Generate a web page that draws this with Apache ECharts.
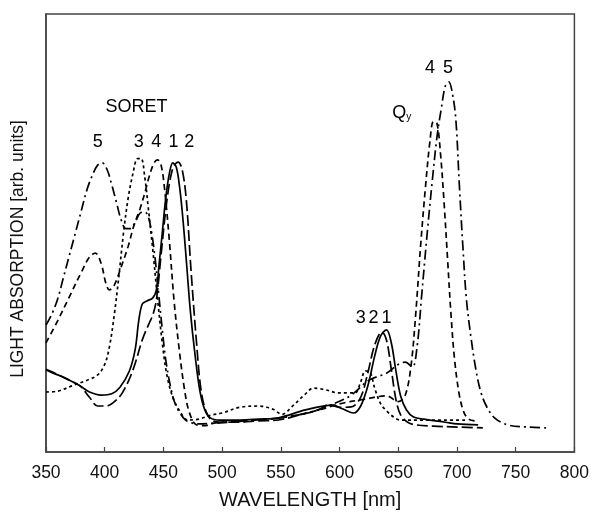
<!DOCTYPE html>
<html><head><meta charset="utf-8">
<script src="https://cdn.jsdelivr.net/npm/echarts@6/dist/echarts.min.js"></script>
<style>html,body{margin:0;padding:0;background:#fff}#c{width:592px;height:515px}</style></head>
<body><div id="c"></div>
<script>
// Wavelength [nm], absorption [arb. units, 0-100]
var curve1 = [[350,18.7],[356,18.0],[362,17.4],[370,16.4],[379,15.1],[387,13.7],[397,13.0],[406,13.3],[413,14.8],[421,18.5],[426,23.5],[429,30],[432,33.8],[436,34.5],[441,35.2],[444,37],[446,42],[449,50],[452,58],[455,63.5],[458,66],[461,65],[464,60],[467,52],[470,42],[473,32],[477,22],[481,14],[485,9.8],[490,7.8],[498,7.3],[515,7.3],[531,7.5],[548,7.8],[571,9.6],[594,10.7],[603,9.8],[612,8.9],[618,10.5],[624,15],[630,22],[635,26.5],[640,27.9],[644,25],[648,18.5],[652,12.8],[657,9.6],[663,8.0],[672,7.5],[690,6.8],[700,6.4],[718,6.2]];
var curve2 = [[350,18.9],[356,18.2],[362,17.4],[370,16.4],[379,15.1],[387,12.5],[394,10.5],[401,10.5],[407,11.2],[415,13.5],[424,18.7],[432,25.6],[438,29.5],[441,31.3],[444,34.7],[448,45],[453,57.5],[458,64.8],[462.5,66.2],[466,64.4],[469.5,57.5],[473.5,41.5],[478,25.6],[482,14.2],[486.5,9.1],[491,7.3],[498,6.8],[514,6.8],[531,7.1],[548,7.3],[565,8.4],[582,9.6],[591,10.8],[600,10.2],[610,10.3],[618,12.5],[624,18],[630,24.5],[636,27.4],[640,25.5],[644,19],[648,12],[652,8.5],[658,6.8],[665,6.2],[680,5.9],[700,5.7],[722,5.5]];
var curve3 = [[350,13.7],[360,13.9],[372,15.1],[385,16.4],[394,17.6],[400,20],[404,24],[408,31],[412,40],[416,50],[420,58],[424,63.5],[428,67],[431,67],[434,63],[437,56],[441,46],[445,35],[449,25],[453,17.5],[458,12.5],[464,9.3],[471,7.3],[480,7.5],[490,8.4],[500,8.9],[515,10.2],[531,10.5],[543,9.8],[551,8.6],[560,10.5],[570,13],[578,14.6],[588,14.2],[599,13.5],[613,13.5],[618,16],[622,18.5],[626,18.2],[630,14.5],[635,11],[640,9.4],[646,8],[652,7.3],[670,7.3],[690,7.3],[709,7.3]];
var curve4 = [[350,24.9],[360,30],[370,35.5],[380,41],[387,44.5],[392,45.4],[397,43],[401,38.5],[404,37],[408,38],[415,43],[420,47],[425,51.8],[430,55.5],[434,59],[438,63],[442,66],[445,66.7],[448,65.5],[451,60],[455,48.4],[459,34.7],[463.5,23.3],[468,14.2],[472,9.1],[478,6.2],[485,6.0],[493,6.6],[515,7.1],[540,7.5],[565,8.5],[585,9.8],[600,11.0],[620,12],[640,12.8],[650,11.5],[656,13],[661,20],[665,32],[669,47],[673,60],[677,71],[680,75.5],[683,75],[686,68],[689,57],[692,44],[695,31],[698,21],[702,13],[706,9],[710,7.5],[715,7.1]];
var curve5 = [[350,29],[355,31.5],[360,35],[365,40],[370,45],[375,50],[380,55],[385,60],[390,63.5],[394,65.5],[398,66],[402,64.5],[406,61],[410,57],[414,53],[418,51],[422,51],[426,52.5],[430,54.5],[434,54.8],[437,53.8],[440,50],[443,44],[446,36],[449,28],[452,21],[456,15],[460,11],[465,8.5],[470,7.1],[480,6.4],[495,6.6],[520,7.1],[550,7.8],[575,9.1],[595,11],[610,13],[625,16.4],[640,18],[650,20],[656,20.5],[662,19.4],[666,24],[670,36],[675,51],[679,62],[683,72],[687,79],[690,83.5],[693,84.5],[696,82],[699,76],[702,61],[705,47],[708,35],[712,26],[716,19],[720,14],[725,10.5],[732,7.8],[743,6.2],[760,5.7],[778,5.5]];
// Annotation labels: [wavelength, absorption, text]
var annotations = [[427,78.8,'SORET'],[394,70.8,'5'],[429,70.8,'3'],[444,70.8,'4'],[458.5,70.8,'1'],[472,70.8,'2'],[618,30.6,'3'],[629,30.6,'2'],[640,30.6,'1'],[677,87.7,'4'],[692.4,87.7,'5'],[653,77.4,'Qy']];
var xTicks = {min:350, max:800, step:50};

var FONT = '"Liberation Sans", Arial, sans-serif';
var chart = echarts.init(document.getElementById('c'), null, {renderer:'canvas'});
function line(data, type){
  return {type:'line', data:data, smooth:0.35, showSymbol:false, silent:true,
    lineStyle:{color:'#000', width:1.7, type:type}};
}
chart.setOption({
  animation:false,
  backgroundColor:'#fff',
  grid:{left:46, top:14, right:15, bottom:63, show:true, borderColor:'#444', borderWidth:1.5},
  xAxis:{type:'value', min:xTicks.min, max:xTicks.max, interval:xTicks.step,
    name:'WAVELENGTH [nm]', nameLocation:'middle', nameGap:38,
    nameTextStyle:{fontFamily:FONT, fontSize:20, color:'#111'},
    axisLine:{lineStyle:{color:'#444', width:1.5}},
    axisTick:{inside:true, length:5, lineStyle:{color:'#444', width:1.2}},
    axisLabel:{fontFamily:FONT, fontSize:17.5, color:'#111', margin:12},
    splitLine:{show:false}},
  yAxis:{type:'value', min:0, max:100,
    name:'LIGHT ABSORPTION [arb. units]', nameLocation:'middle', nameGap:19,
    nameTextStyle:{fontFamily:FONT, fontSize:17.5, color:'#111', padding:[0,0,0,-32]},
    axisLine:{show:true, lineStyle:{color:'#444', width:1.5}},
    axisTick:{show:false}, axisLabel:{show:false}, splitLine:{show:false}},
  series:[
    line(curve1,'solid'),
    line(curve2,[11,4]),
    line(curve3,[3,3]),
    line(curve4,[6,4]),
    line(curve5,[10,4,2,4]),
    {type:'scatter', symbolSize:0, silent:true, itemStyle:{opacity:1},
      data:annotations.map(function(a){return {value:[a[0],a[1]], name:a[2]};}),
      label:{show:true, position:'inside', color:'#000', opacity:1, fontFamily:FONT, fontSize:18,
        formatter:function(p){ return p.name==='Qy' ? '{q|Q}{s|y}' : p.name; },
        rich:{q:{fontFamily:FONT, fontSize:18, color:'#000'}, s:{fontFamily:FONT, fontSize:10, color:'#000', padding:[9,0,0,0]}}}}
  ]
});
</script></body></html>
